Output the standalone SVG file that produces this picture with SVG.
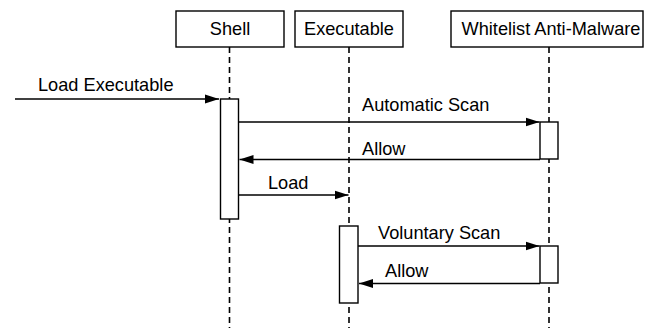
<svg xmlns="http://www.w3.org/2000/svg" width="656" height="328" viewBox="0 0 656 328">
<style>
.box{fill:#fff;stroke:#000;stroke-width:1.4}
.life{stroke:#000;stroke-width:1.6;stroke-dasharray:6,4;fill:none}
.act{fill:#fff;stroke:#000;stroke-width:1.4}
.msg{stroke:#000;stroke-width:1.4;fill:none;marker-end:url(#ah)}
text{font-family:"Liberation Sans",Arial,sans-serif;font-size:18.2px;fill:#000}
.c{text-anchor:middle}
</style>
<defs>
<marker id="ah" markerUnits="userSpaceOnUse" markerWidth="15" markerHeight="10" refX="14" refY="5" orient="auto">
<path d="M0,0.5 L14,5 L0,9.5 Z" fill="#000"/>
</marker>
</defs>
<g id="lifelines">
<line class="life" x1="229.5" y1="47" x2="229.5" y2="328"/>
<line class="life" x1="349" y1="47" x2="349" y2="328"/>
<line class="life" x1="549" y1="47" x2="549" y2="328"/>
</g>
<g id="shell">
<rect class="box" x="176" y="11" width="108" height="36"/>
<text class="c" x="230" y="35">Shell</text>
</g>
<g id="executable">
<rect class="box" x="295" y="11" width="108" height="36"/>
<text class="c" x="349" y="35">Executable</text>
</g>
<g id="whitelist">
<rect class="box" x="451" y="11" width="192" height="36"/>
<text class="c" x="551" y="35">Whitelist Anti-Malware</text>
</g>
<g id="activations">
<rect class="act" x="220.5" y="99" width="18" height="120"/>
<rect class="act" x="540" y="122" width="18" height="37"/>
<rect class="act" x="339.5" y="226" width="18.5" height="77"/>
<rect class="act" x="540" y="246" width="18" height="37"/>
</g>
<g id="connectors">
<line class="msg" x1="15" y1="99" x2="219" y2="99"/>
<text x="38" y="91">Load Executable</text>
<line class="msg" x1="238.5" y1="122" x2="539.5" y2="122"/>
<text x="362" y="111">Automatic Scan</text>
<line class="msg" x1="540" y1="159.5" x2="239.5" y2="159.5"/>
<text x="362" y="155">Allow</text>
<line class="msg" x1="238.5" y1="195" x2="348.5" y2="195"/>
<text x="268" y="189">Load</text>
<line class="msg" x1="358" y1="246" x2="539.5" y2="246"/>
<text x="378" y="239">Voluntary Scan</text>
<line class="msg" x1="540" y1="283.5" x2="359" y2="283.5"/>
<text x="385" y="277">Allow</text>
</g>
</svg>
